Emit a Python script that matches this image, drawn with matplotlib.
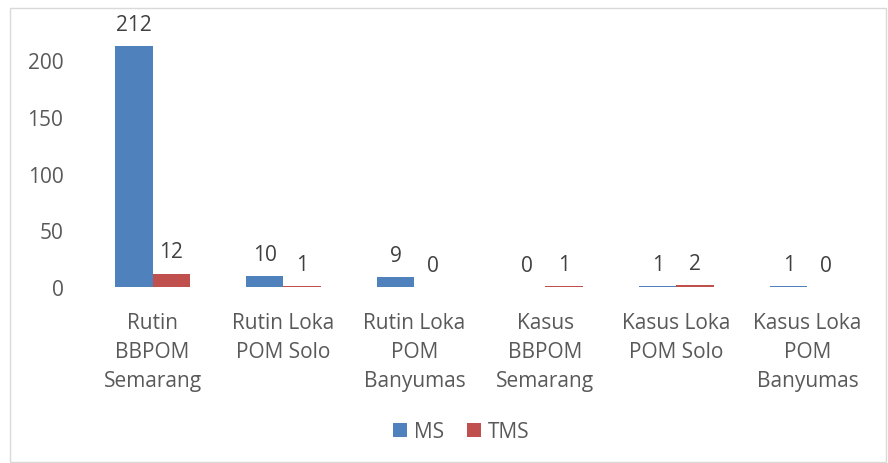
import matplotlib
matplotlib.use("Agg")
import matplotlib.pyplot as plt
from matplotlib.patches import Rectangle
import numpy as np

categories = ["Rutin\nBBPOM\nSemarang", "Rutin Loka\nPOM Solo", "Rutin Loka\nPOM\nBanyumas",
              "Kasus\nBBPOM\nSemarang", "Kasus Loka\nPOM Solo", "Kasus Loka\nPOM\nBanyumas"]
ms = [212, 10, 9, 0, 1, 1]
tms = [12, 1, 0, 1, 2, 0]
yticks = [0, 50, 100, 150, 200]

BLUE = "#4F81BD"
RED = "#C0504D"
TXT = "#595959"
plt.rcParams["font.family"] = ["Open Sans", "DejaVu Sans"]

fig = plt.figure(figsize=(8.88, 4.64), dpi=100)
fig.patches.append(Rectangle((0.011, 0.003), 0.987, 0.978, transform=fig.transFigure,
                             fill=False, edgecolor="#D9D9D9", linewidth=1))
ax = fig.add_axes([0.098, 0.379, 0.885, 0.578])
x = np.arange(len(categories))
w = 0.283
b1 = ax.bar(x - w / 2, ms, w, color=BLUE, label="MS")
b2 = ax.bar(x + w / 2, tms, w, color=RED, label="TMS")
for bars, vals in ((b1, ms), (b2, tms)):
    for r, v in zip(bars, vals):
        ax.annotate(str(v), (r.get_x() + r.get_width() / 2, v), xytext=(0, 8),
                    textcoords="offset points", ha="center", va="bottom",
                    fontsize=15, color="#404040", annotation_clip=False)
ax.set_xlim(-0.5, len(categories) - 0.5)
ax.set_ylim(0, 236)
ax.set_yticks(yticks)
ax.set_xticks(x)
ax.set_xticklabels(categories, linespacing=1.5)
ax.tick_params(axis="both", length=0, labelsize=15, colors=TXT)
ax.tick_params(axis="x", pad=18)
ax.tick_params(axis="y", pad=17)
for s in ax.spines.values():
    s.set_visible(False)
leg = fig.legend(handles=[b1, b2], loc="center", bbox_to_anchor=(0.519, 0.067), ncol=2,
                 frameon=False, fontsize=15, handlelength=0.7, handleheight=0.7,
                 handletextpad=0.3, columnspacing=1.1, labelcolor=TXT)
fig.savefig("out.png", dpi=100)
